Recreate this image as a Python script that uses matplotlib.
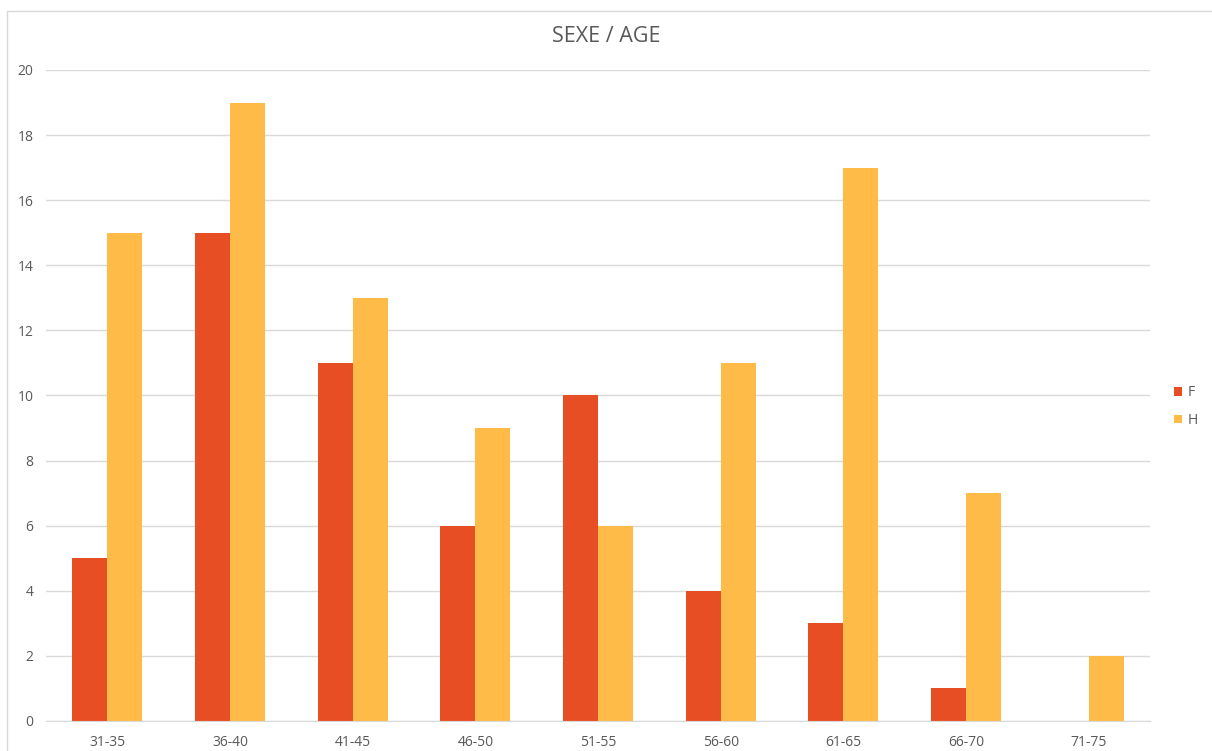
import numpy as np
import matplotlib.pyplot as plt
from matplotlib.patches import Rectangle

# Données
tranches = ['31-35', '36-40', '41-45', '46-50', '51-55', '56-60', '61-65', '66-70', '71-75']
femmes = [5, 15, 11, 6, 10, 4, 3, 1, 0]
hommes = [15, 19, 13, 9, 6, 11, 17, 7, 2]

couleur_f = '#E84E24'
couleur_h = '#FFBB47'
gris = '#595959'

plt.rcParams['font.family'] = ['Open Sans', 'DejaVu Sans']

fig = plt.figure(figsize=(12.12, 7.51), dpi=100)
ax = fig.add_axes([46 / 1212, 1 - 721 / 751, (1150 - 46) / 1212, (721 - 70) / 751])

x = np.arange(len(tranches))
largeur = 0.285
ax.bar(x - largeur / 2, femmes, largeur, color=couleur_f, label='F')
ax.bar(x + largeur / 2, hommes, largeur, color=couleur_h, label='H')

ax.set_xlim(-0.5, len(tranches) - 0.5)
ax.set_ylim(0, 20)
ax.set_yticks(range(0, 21, 2))
ax.set_xticks(x)
ax.set_xticklabels(tranches)
ax.grid(axis='y', color='#D9D9D9', linewidth=1)
ax.set_axisbelow(True)
for s in ['top', 'right', 'left']:
    ax.spines[s].set_visible(False)
ax.spines['bottom'].set_color('#D9D9D9')
ax.tick_params(length=0, colors=gris, labelsize=10)
ax.tick_params(axis='y', pad=9)
ax.tick_params(axis='x', pad=10)

fig.text(0.5, 1 - 37 / 751, 'SEXE / AGE', ha='center', va='center', fontsize=15.5, color=gris)

ax.legend(loc='center left', bbox_to_anchor=(1.01, 0.483), frameon=False,
          fontsize=10, labelcolor=gris, handlelength=0.6, handleheight=0.6,
          labelspacing=0.9, handletextpad=0.4)

# cadre du graphique
fig.patches.append(Rectangle((7 / 1212, -0.01), 1.02, 1 - 11 / 751 + 0.01,
                             transform=fig.transFigure, fill=False,
                             edgecolor='#D9D9D9', linewidth=1))

fig.savefig('out.png', dpi=100)
